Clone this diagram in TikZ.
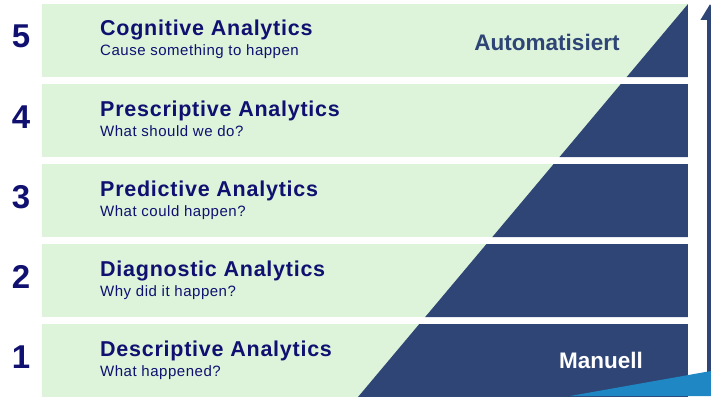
\documentclass[tikz,border=0pt]{standalone}
\usepackage{fontspec}
\setmainfont{Liberation Sans}
\newfontfamily\spacedfont[LetterSpace=3.5]{Liberation Sans}
\usepackage{tikz}
\usetikzlibrary{arrows.meta,positioning,calc}
\usepackage{xcolor}
\tikzset{>=Stealth}
\definecolor{barcolor}{RGB}{221,244,219}
\definecolor{navycolor}{RGB}{46,69,118}
\definecolor{textcolor}{RGB}{16,16,112}
\definecolor{wedgecolor}{RGB}{30,135,196}
\tikzset{
  levelnum/.style={anchor=base,font=\fontsize{33}{36}\selectfont\bfseries,text=textcolor,inner sep=0pt},
  leveltitle/.style={anchor=base west,font=\spacedfont\fontsize{21.5}{24}\selectfont\bfseries,text=textcolor,inner sep=0pt},
  levelsub/.style={anchor=base west,font=\spacedfont\fontsize{15}{17}\selectfont,text=textcolor,inner sep=0pt},
  sidelabel/.style={anchor=base,font=\fontsize{22.5}{25}\selectfont\bfseries,inner sep=0pt}
}

\begin{document}
\begin{tikzpicture}[x=1pt,y=-1pt]
  \useasboundingbox (0,0) rectangle (711,396);
  % green bars with number, title and subtitle
  \foreach \n/\ttl/\sub [count=\i] in {
    5/{Cognitive Analytics}/{Cause something to happen},
    4/{Prescriptive Analytics}/{What should we do?},
    3/{Predictive Analytics}/{What could happen?},
    2/{Diagnostic Analytics}/{Why did it happen?},
    1/{Descriptive Analytics}/{What happened?}
  }{
    \pgfmathsetmacro{\top}{4+(\i-1)*80}
    \fill[barcolor] (42,\top) rectangle (688,{\top+73});
    \node[levelnum] (num\n) at (21,{\top+44}) {\n};
    \node[leveltitle] (title\n) at (100,{\top+32}) {\ttl};
    \node[levelsub] (sub\n) at (100,{\top+52}) {\sub};
  }
  % dark triangle, only inside the bars
  \begin{scope}
    \clip foreach \i in {0,...,4} {(42,{4+\i*80}) rectangle (688,{77+\i*80})};
    \fill[navycolor] (358,397) -- (688,4) -- (688,397) -- cycle;
  \end{scope}
  \node[sidelabel,text=navycolor] (auto) at (547,50) {Automatisiert};
  \node[sidelabel,text=white] (manual) at (601,368) {Manuell};
  % arrow on the right
  \coordinate (arrbot) at (710,396);
  \coordinate (arrtop) at (710,4);
  \draw[navycolor,line width=7pt,-{Triangle[width=18pt,length=16pt]}] (arrbot) -- (arrtop);
  \fill[wedgecolor] (570,396) -- (711,371) -- (711,396) -- cycle;
\end{tikzpicture}
\end{document}
